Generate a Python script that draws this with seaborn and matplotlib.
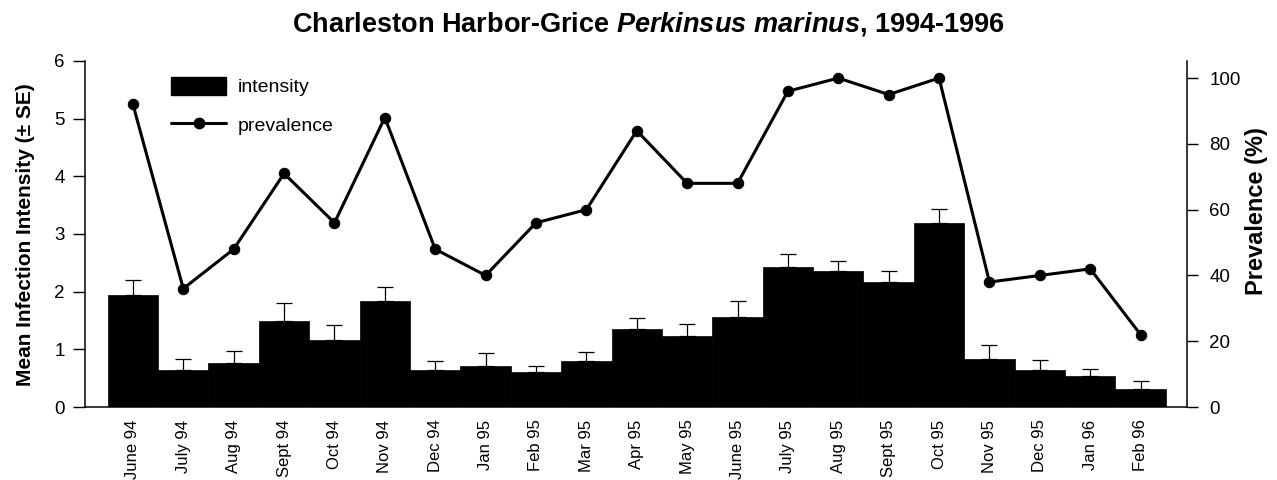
import numpy as np
import pandas as pd
import matplotlib
matplotlib.use("Agg")
import matplotlib.pyplot as plt
import seaborn as sns
from matplotlib.patches import Patch
from matplotlib.lines import Line2D

# data
months = ["June 94", "July 94", "Aug 94", "Sept 94", "Oct 94", "Nov 94", "Dec 94",
          "Jan 95", "Feb 95", "Mar 95", "Apr 95", "May 95", "June 95", "July 95",
          "Aug 95", "Sept 95", "Oct 95", "Nov 95", "Dec 95", "Jan 96", "Feb 96"]
intensity = [1.95, 0.64, 0.76, 1.50, 1.16, 1.84, 0.64, 0.72, 0.60, 0.80, 1.36,
             1.24, 1.56, 2.43, 2.36, 2.17, 3.19, 0.83, 0.64, 0.53, 0.32]
se = [0.25, 0.20, 0.21, 0.31, 0.26, 0.24, 0.16, 0.22, 0.11, 0.15, 0.19,
      0.20, 0.27, 0.23, 0.18, 0.19, 0.25, 0.24, 0.17, 0.13, 0.13]
prevalence = [92, 36, 48, 71, 56, 88, 48, 40, 56, 60, 84, 68, 68, 96, 100, 95,
              100, 38, 40, 42, 22]

sns.set_style("ticks")
plt.rcParams['font.family'] = ['Liberation Sans', 'DejaVu Sans']
for k in ['text.color', 'axes.labelcolor', 'xtick.color', 'ytick.color', 'axes.edgecolor']:
    plt.rcParams[k] = 'black'
plt.rcParams['mathtext.fontset'] = 'custom'
plt.rcParams['mathtext.it'] = 'Liberation Sans:italic:bold'
plt.rcParams['mathtext.rm'] = 'Liberation Sans:bold'
plt.rcParams['mathtext.bf'] = 'Liberation Sans:bold'

df = pd.DataFrame({"month": months, "intensity": intensity, "se": se,
                   "prevalence": prevalence})
x = np.arange(len(months))

fig = plt.figure(figsize=(12.77, 4.8), dpi=100)
ax = fig.add_axes([0.0666, 0.152, 0.8629, 0.721])

# intensity bars with upper SE whiskers
sns.barplot(data=df, x="month", y="intensity", order=months, color="black",
            width=1.0, edgecolor="black", linewidth=0.5, saturation=1, ax=ax)
ax.errorbar(x, df["intensity"], yerr=[np.zeros(len(x)), df["se"]], fmt="none",
            ecolor="black", elinewidth=0.9, capsize=5.5, capthick=0.9)

ax.set_ylim(0, 6)
ax.set_xlim(-0.95, len(months) - 1 + 0.92)
ax.set_yticks(range(0, 7))
ax.set_xlabel("")
ax.set_ylabel("Mean Infection Intensity (± SE)", fontsize=15, fontweight="bold")
ax.yaxis.set_label_coords(-0.0454, 0.498)
ax.tick_params(axis="x", length=0, rotation=90, labelsize=12, pad=9)
ax.tick_params(axis="y", length=8.5, width=1, labelsize=13.5, pad=6)
ax.spines["top"].set_visible(False)
ax.spines["right"].set_visible(False)
for s in ["left", "bottom"]:
    ax.spines[s].set_linewidth(1.1)

# prevalence line on the right axis
ax2 = ax.twinx()
sns.lineplot(x=x, y=df["prevalence"], color="black", linewidth=2.2, marker="o",
             markersize=7.5, markeredgecolor="black", ax=ax2)
ax2.set_ylim(0, 105.2)
ax2.set_yticks(range(0, 101, 20))
ax2.set_ylabel("Prevalence (%)", fontsize=17, fontweight="bold")
ax2.yaxis.set_label_coords(1.053, 0.566)
ax2.tick_params(axis="y", length=8, width=1, labelsize=13.5, pad=8)
for s in ["top", "left", "bottom"]:
    ax2.spines[s].set_visible(False)
ax2.spines["right"].set_linewidth(1.1)

handles = [Patch(facecolor="black", edgecolor="black"),
           Line2D([], [], color="black", lw=2.2, marker="o", markersize=7.5)]
ax2.legend(handles, ["intensity", "prevalence"], loc="upper left",
           bbox_to_anchor=(0.078, 0.955), frameon=False, fontsize=14,
           handlelength=2.85, handleheight=1.1, labelspacing=0.95,
           handletextpad=0.6, borderpad=0, borderaxespad=0)

fig.text(0.508, 0.95, "Charleston Harbor-Grice $\\it{Perkinsus\\ marinus}$, 1994-1996",
         ha="center", va="center", fontsize=19.5, fontweight="bold")

fig.savefig("out.png", dpi=100)
